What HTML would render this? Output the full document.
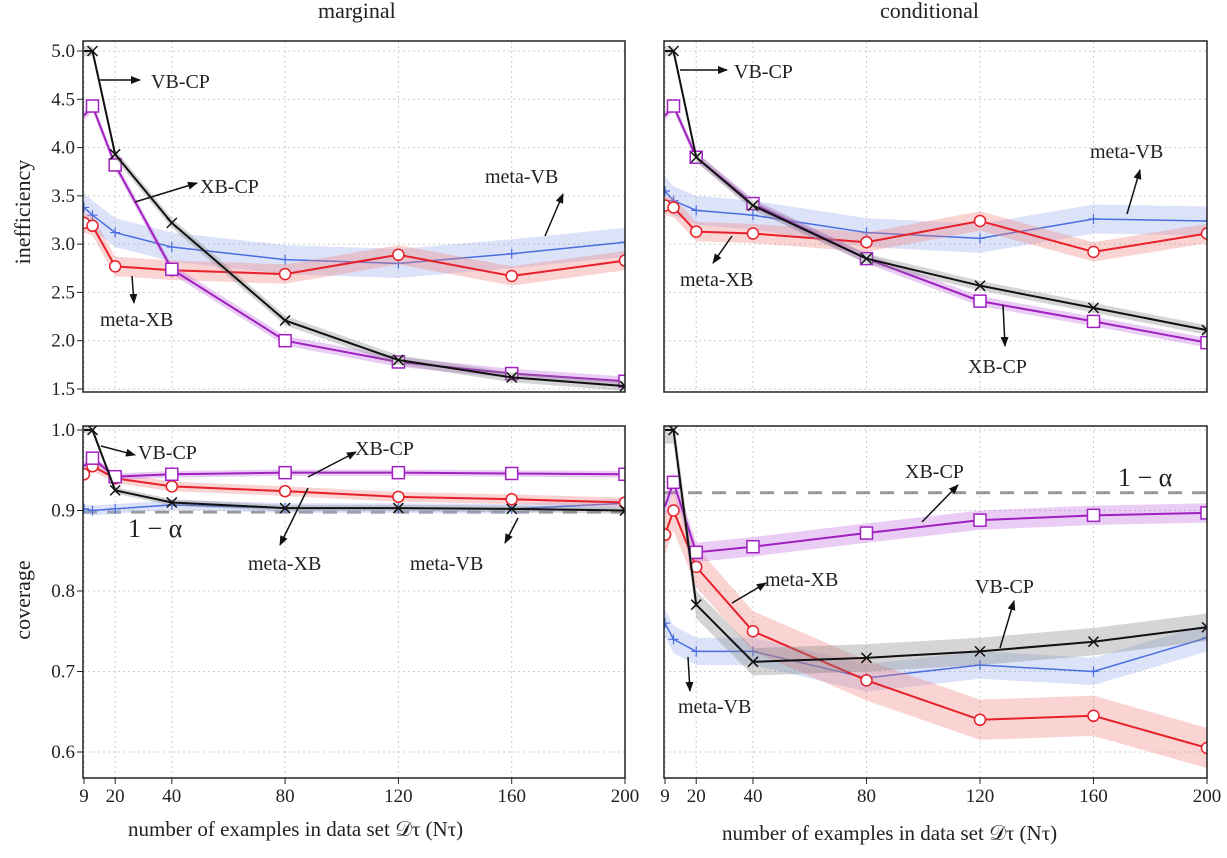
<!DOCTYPE html>
<html><head><meta charset="utf-8"><style>
html,body{margin:0;padding:0;background:#fff;width:1227px;height:858px;overflow:hidden}
svg text{font-family:"Liberation Serif",serif;fill:#222}
</style></head><body>
<svg id="c" width="1227" height="858"></svg>
<script>
const NS='http://www.w3.org/2000/svg';
const xVals=[9,12,20,40,80,120,160,200];
const xTicks=[9,20,40,80,120,160,200];
const topTicks=[1.5,2.0,2.5,3.0,3.5,4.0,4.5,5.0];
const botTicks=[0.6,0.7,0.8,0.9,1.0];
const seriesNames=['VB-CP','XB-CP','meta-XB','meta-VB'];
const ineffMargVB=[5.0,5.0,3.93,3.22,2.21,1.80,1.62,1.53];
const ineffMargXB=[4.33,4.43,3.82,2.74,2.0,1.78,1.66,1.58];
const ineffMargMXB=[3.22,3.19,2.77,2.73,2.69,2.89,2.67,2.83];
const ineffMargMVB=[3.38,3.3,3.12,2.97,2.84,2.8,2.9,3.02];
const ineffCondVB=[5.0,5.0,3.9,3.4,2.85,2.57,2.34,2.11];
const ineffCondXB=[4.33,4.43,3.9,3.42,2.85,2.41,2.2,1.98];
const ineffCondMXB=[3.4,3.38,3.13,3.11,3.02,3.24,2.92,3.11];
const ineffCondMVB=[3.55,3.45,3.35,3.3,3.12,3.06,3.26,3.24];
const covMargVB=[1.0,1.0,0.925,0.91,0.903,0.903,0.902,0.9];
const covMargXB=[0.955,0.965,0.942,0.945,0.947,0.947,0.946,0.945];
const covMargMXB=[0.945,0.955,0.94,0.93,0.924,0.917,0.914,0.91];
const covMargMVB=[0.902,0.9,0.902,0.907,0.903,0.903,0.902,0.909];
const covCondVB=[1.0,1.0,0.783,0.712,0.717,0.725,0.737,0.755];
const covCondXB=[0.905,0.935,0.848,0.855,0.872,0.888,0.894,0.897];
const covCondMXB=[0.87,0.9,0.83,0.75,0.689,0.64,0.645,0.605];
const covCondMVB=[0.76,0.74,0.725,0.725,0.692,0.708,0.7,0.742];
const bandTop=[0.05,0.05,0.1,0.15];
const bandMarg=[0.004,0.004,0.006,0.006];
const bandCond=[0.017,0.012,0.025,0.017];
const alphaMarg=0.898, alphaCond=0.922;

const svg=document.getElementById('c');
function el(t,a,p){const e=document.createElementNS(NS,t);for(const k in a)e.setAttribute(k,a[k]);(p||svg).appendChild(e);return e;}
function txt(s,x,y,a,p){const e=el('text',Object.assign({x:x,y:y},a||{}),p);e.textContent=s;return e;}
el('defs',{}).innerHTML='<marker id="ah" markerWidth="10" markerHeight="8" refX="9" refY="4" orient="auto" markerUnits="userSpaceOnUse"><path d="M0,0 L10,4 L0,8 z" fill="#111"/></marker><clipPath id="cl0"><rect x="83" y="41" width="542" height="351"/></clipPath><clipPath id="cl1"><rect x="664" y="41" width="543" height="351"/></clipPath><clipPath id="cl2"><rect x="83" y="426" width="542" height="352"/></clipPath><clipPath id="cl3"><rect x="664" y="426" width="543" height="352"/></clipPath>';

const colors=['#111','#a020c0','#e8202a','#4a6ee0'];
const fills=['#888','#c070e0','#f08080','#9ab0ee'];
function panel(idx,px0,px1,py0,py1,vTop,yTop,vBot,yBot,ticks,showY,data,bands,alpha,showX){
  const g=el('g',{});
  
  
  const X=v=>px0+1+(v-9)*(px1-px0-1)/191;
  const Y=v=>yTop+(vTop-v)*(yBot-yTop)/(vTop-vBot);
  xTicks.forEach(t=>{el('line',{x1:X(t),x2:X(t),y1:py0,y2:py1,stroke:'#ccc','stroke-dasharray':'2,3','stroke-width':1},g);
    if(showX){el('line',{x1:X(t),x2:X(t),y1:py1,y2:py1+6,stroke:'#222'},g);const tl=txt(t,X(t),py1+24,{'text-anchor':'middle','font-size':19},g);}});
  ticks.forEach(t=>{el('line',{x1:px0,x2:px1,y1:Y(t),y2:Y(t),stroke:'#ccc','stroke-dasharray':'2,3'},g);
    if(showY){el('line',{x1:px0-6,x2:px0,y1:Y(t),y2:Y(t),stroke:'#222'},g);const tl=txt(t.toFixed(1),px0-8,Y(t)+6,{'text-anchor':'end','font-size':19},g);}});
  const cg=el('g',{'clip-path':'url(#cl'+idx+')'},g);
  if(alpha!==null) el('line',{x1:px0,x2:px1,y1:Y(alpha),y2:Y(alpha),stroke:'#999','stroke-width':3,'stroke-dasharray':'14,10'},cg);
  [3,2,1,0].forEach(s=>{
    const d=data[s],b=bands[s];
    let up=xVals.map((x,i)=>X(x)+','+Y(d[i]+b)).join(' ');
    let dn=xVals.map((x,i)=>X(x)+','+Y(d[i]-b)).reverse().join(' ');
    const band=el('polygon',{points:up+' '+dn,fill:fills[s],opacity:0.35},cg);
    
    
    const ln=el('polyline',{points:xVals.map((x,i)=>X(x)+','+Y(d[i])).join(' '),fill:'none',stroke:colors[s],'stroke-width':s===3?1.5:2},cg);
    
    
    xVals.forEach((x,i)=>{
      if(i===0&&s<2) return;
      const cx=X(x),cy=Y(d[i]);let m;
      if(s===0){m=el('path',{d:`M${cx-5},${cy-5}L${cx+5},${cy+5}M${cx-5},${cy+5}L${cx+5},${cy-5}`,stroke:'#111','stroke-width':1.5},cg);}
      else if(s===1){m=el('rect',{x:cx-6,y:cy-6,width:12,height:12,fill:'#fff',stroke:colors[1],'stroke-width':1.5},cg);}
      else if(s===2){m=el('circle',{cx:cx,cy:cy,r:5.5,fill:'#fff',stroke:colors[2],'stroke-width':1.5},cg);}
      else {m=el('path',{d:`M${cx-5},${cy}L${cx+5},${cy}M${cx},${cy-5}L${cx},${cy+5}`,stroke:colors[3],'stroke-width':1.2},cg);}
      
      
    });
  });
  el('rect',{x:px0,y:py0,width:px1-px0,height:py1-py0,fill:'none',stroke:'#222','stroke-width':1.5},g);
}
panel(0,83,625,41,392,5.0,51,1.5,389,topTicks,true,[ineffMargVB,ineffMargXB,ineffMargMXB,ineffMargMVB],bandTop,null,false);
panel(1,664,1207,41,392,5.0,51,1.5,389,topTicks,false,[ineffCondVB,ineffCondXB,ineffCondMXB,ineffCondMVB],bandTop,null,false);
panel(2,83,625,426,778,1.0,430,0.6,752,botTicks,true,[covMargVB,covMargXB,covMargMXB,covMargMVB],bandMarg,alphaMarg,true);
panel(3,664,1207,426,778,1.0,430,0.6,752,botTicks,false,[covCondVB,covCondXB,covCondMXB,covCondMVB],bandCond,alphaCond,true);

function lab(s,x,y,name,size){const t=txt(s,x,y,{'font-size':size||20});return t;}
function arr(x1,y1,x2,y2){const a=el('line',{x1:x1,y1:y1,x2:x2,y2:y2,stroke:'#111','stroke-width':1.5,'marker-end':'url(#ah)'});}
lab('marginal',318,18,'title-marginal',22);
lab('conditional',880,18,'title-conditional',22);
let yl=txt('inefficiency',0,0,{'font-size':22,transform:'translate(30,212) rotate(-90)','text-anchor':'middle'});
yl=txt('coverage',0,0,{'font-size':22,transform:'translate(30,600) rotate(-90)','text-anchor':'middle'});
lab('number of examples in data set 𝒟τ (Nτ)',128,836,'x-axis-title-left',21);
lab('number of examples in data set 𝒟τ (Nτ)',722,840,'x-axis-title-right',21);
lab('VB-CP',151,88,'label-vb-cp');arr(100,80,140,80);
lab('XB-CP',200,193,'label-xb-cp');arr(135,202,197,183);
lab('meta-VB',485,183,'label-meta-vb');arr(545,236,563,194);
lab('meta-XB',100,326,'label-meta-xb');arr(132,276,134,303);
lab('VB-CP',734,78,'label-vb-cp');arr(680,70,727,70);
lab('meta-VB',1090,158,'label-meta-vb');arr(1127,214,1140,170);
lab('meta-XB',680,286,'label-meta-xb');arr(732,236,713,263);
lab('XB-CP',968,373,'label-xb-cp');arr(1003,305,1005,346);
lab('VB-CP',138,459,'label-vb-cp');arr(101,446,135,455);
lab('XB-CP',355,455,'label-xb-cp');arr(308,477,356,452);
lab('1 − α',128,537,'label-one-minus-alpha',26);
lab('meta-XB',248,570,'label-meta-xb');arr(308,488,280,545);
lab('meta-VB',410,570,'label-meta-vb');arr(518,518,505,543);
lab('XB-CP',905,478,'label-xb-cp');arr(922,522,958,485);
lab('1 − α',1118,486,'label-one-minus-alpha',26);
lab('meta-XB',765,586,'label-meta-xb');arr(732,603,766,583);
lab('VB-CP',975,593,'label-vb-cp');arr(1000,648,1014,601);
lab('meta-VB',678,713,'label-meta-vb');arr(688,657,690,691);
</script>
</body></html>
